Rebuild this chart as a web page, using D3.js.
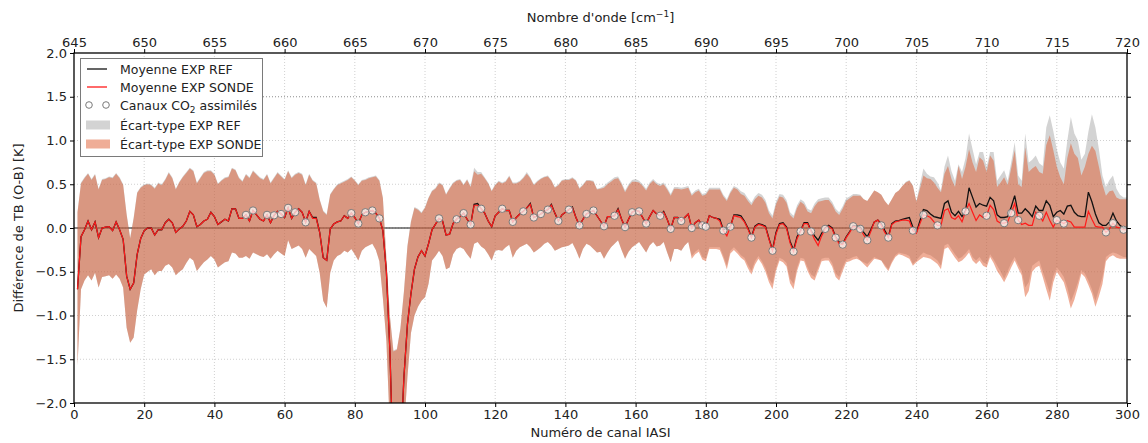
<!DOCTYPE html>
<html><head><meta charset="utf-8">
<script src="https://cdn.jsdelivr.net/npm/d3@7"></script>
<style>
body{margin:0;background:#fff}
text{font-family:"DejaVu Sans",sans-serif}
</style>
</head><body>
<svg id="c" width="1148" height="443"></svg>
<script>
// ---------------- DATA ----------------
const channels = d3.range(1, 301); // numéro de canal IASI
const meanRef = [
-0.70,-0.10,-0.02,0.08,-0.02,0.07,-0.11,0.00,0.01,0.015,
-0.03,0.07,-0.02,-0.13,-0.55,-0.70,-0.63,-0.30,-0.12,-0.03,
0.00,0.00,-0.08,-0.02,-0.02,0.06,0.10,0.06,-0.05,-0.01,
0.02,0.08,0.19,0.15,0.015,0.04,0.08,0.10,0.18,0.13,
0.04,0.07,0.10,0.08,0.22,0.22,0.11,0.11,0.15,0.08,
0.20,0.15,0.10,0.08,0.15,0.06,0.145,0.19,0.16,0.12,
0.23,0.11,0.18,0.22,0.18,0.065,0.19,0.12,0.12,-0.05,
-0.34,-0.37,-0.01,0.045,0.07,0.08,0.14,0.11,0.17,0.12,
0.05,0.15,0.18,0.19,0.20,0.17,0.11,-0.03,-0.50,-1.40,
-2.80,-3.20,-2.60,-1.70,-1.10,-0.75,-0.47,-0.33,-0.26,-0.32,
-0.18,-0.02,0.045,0.11,0.08,-0.08,-0.07,0.05,0.10,0.13,
0.17,0.10,0.04,0.27,0.28,0.22,0.17,0.08,0.015,0.14,
0.18,0.22,0.20,0.20,0.07,0.12,0.16,0.19,0.23,0.28,
0.12,0.14,0.16,0.19,0.21,0.27,0.17,0.08,0.15,0.18,
0.21,0.24,0.12,0.03,0.10,0.16,0.18,0.20,0.14,0.08,
0.02,0.13,0.13,0.14,0.22,0.10,0.01,0.10,0.18,0.20,
0.19,0.12,0.05,0.13,0.20,0.16,0.14,0.19,0.10,-0.01,
0.12,0.12,0.08,0.12,0.16,0.00,0.06,0.09,0.03,0.015,
0.14,0.12,0.11,0.10,-0.02,0.00,0.015,0.15,0.15,0.14,
0.08,0.00,-0.10,0.02,0.05,0.04,0.02,-0.12,-0.25,-0.05,
0.05,0.06,0.01,-0.15,-0.25,-0.10,-0.03,0.06,0.06,-0.03,
-0.09,-0.14,-0.06,0.00,0.03,0.00,-0.10,-0.16,-0.18,-0.10,
-0.04,0.03,0.02,0.01,-0.05,-0.10,-0.02,0.07,0.09,0.05,
-0.03,-0.10,0.05,0.08,0.085,0.10,0.11,0.12,0.01,-0.05,
0.08,0.21,0.20,0.16,0.13,0.12,0.11,0.28,0.31,0.18,
0.14,0.19,0.13,0.20,0.46,0.35,0.24,0.28,0.26,0.25,
0.35,0.31,0.15,0.12,0.12,0.13,0.24,0.37,0.17,0.17,
0.22,0.18,0.13,0.25,0.20,0.20,0.31,0.26,0.13,0.18,
0.20,0.16,0.25,0.26,0.18,0.14,0.13,0.13,0.41,0.30,
0.16,0.06,0.03,0.03,0.07,0.17,0.08,0.03,0.00,0.00];
const meanSonde = [
-0.70,-0.10,-0.02,0.08,-0.02,0.07,-0.11,0.00,0.01,0.015,
-0.03,0.07,-0.02,-0.13,-0.55,-0.70,-0.63,-0.30,-0.12,-0.03,
0.00,0.00,-0.08,-0.02,-0.02,0.06,0.10,0.06,-0.05,-0.01,
0.02,0.08,0.19,0.15,0.015,0.04,0.08,0.10,0.18,0.13,
0.04,0.07,0.10,0.08,0.22,0.22,0.11,0.11,0.15,0.08,
0.20,0.15,0.10,0.08,0.15,0.06,0.145,0.19,0.16,0.12,
0.23,0.11,0.18,0.22,0.18,0.065,0.19,0.11,0.11,-0.05,
-0.34,-0.37,-0.01,0.045,0.07,0.08,0.14,0.11,0.17,0.12,
0.05,0.15,0.18,0.19,0.20,0.17,0.11,-0.03,-0.50,-1.40,
-2.80,-3.20,-2.60,-1.70,-1.10,-0.75,-0.47,-0.33,-0.26,-0.32,
-0.18,-0.02,0.045,0.11,0.08,-0.08,-0.07,0.05,0.10,0.13,
0.17,0.10,0.04,0.26,0.26,0.22,0.17,0.08,0.015,0.14,
0.18,0.22,0.20,0.20,0.07,0.12,0.16,0.19,0.23,0.27,
0.12,0.14,0.16,0.19,0.21,0.26,0.17,0.08,0.15,0.18,
0.21,0.23,0.12,0.03,0.10,0.16,0.18,0.20,0.14,0.08,
0.02,0.13,0.13,0.14,0.21,0.10,0.01,0.10,0.18,0.20,
0.19,0.12,0.05,0.13,0.20,0.16,0.14,0.18,0.10,-0.01,
0.12,0.12,0.08,0.12,0.16,0.00,0.06,0.09,0.03,0.015,
0.14,0.12,0.11,0.08,-0.03,-0.09,0.015,0.14,0.13,0.12,
0.07,-0.01,-0.11,0.01,0.04,0.03,0.01,-0.13,-0.26,-0.07,
0.04,0.05,0.00,-0.17,-0.27,-0.12,-0.04,0.05,0.05,-0.04,
-0.13,-0.20,-0.09,-0.01,0.02,-0.01,-0.11,-0.18,-0.19,-0.11,
-0.05,0.02,0.01,-0.01,-0.08,-0.14,-0.04,0.07,0.09,0.03,
-0.05,-0.11,0.04,0.07,0.08,0.09,0.09,0.08,-0.03,-0.06,
0.05,0.15,0.14,0.12,0.07,0.03,0.03,0.20,0.22,0.12,
0.10,0.14,0.07,0.19,0.28,0.18,0.085,0.15,0.12,0.14,
0.26,0.21,0.08,0.055,0.055,0.07,0.17,0.28,0.09,0.04,
0.055,0.03,0.03,0.18,0.14,0.08,0.18,0.085,0.01,0.09,
0.07,0.05,0.085,0.07,0.01,0.01,0.01,0.01,0.19,0.10,
0.02,0.01,0.01,-0.05,-0.01,0.055,0.01,0.00,-0.02,-0.02];
const refHi = [
0.18,0.52,0.58,0.63,0.56,0.62,0.45,0.56,0.57,0.59,
0.58,0.63,0.58,0.50,0.16,-0.11,0.12,0.41,0.47,0.50,
0.51,0.50,0.46,0.52,0.50,0.56,0.64,0.58,0.45,0.53,
0.59,0.64,0.69,0.66,0.52,0.58,0.64,0.66,0.66,0.62,
0.51,0.55,0.58,0.59,0.69,0.67,0.58,0.54,0.62,0.58,
0.66,0.62,0.58,0.56,0.62,0.52,0.58,0.64,0.60,0.56,
0.66,0.58,0.62,0.64,0.62,0.50,0.62,0.55,0.52,0.33,
0.20,0.16,0.39,0.45,0.50,0.52,0.54,0.56,0.59,0.55,
0.50,0.55,0.56,0.58,0.59,0.60,0.55,0.35,-0.34,-1.00,
-1.40,-1.38,-1.14,-0.72,-0.20,0.08,0.24,0.22,0.18,0.24,
0.35,0.43,0.46,0.52,0.50,0.39,0.46,0.52,0.55,0.56,
0.50,0.56,0.48,0.69,0.64,0.64,0.58,0.52,0.43,0.50,
0.54,0.52,0.54,0.60,0.52,0.52,0.54,0.58,0.64,0.58,
0.50,0.54,0.57,0.59,0.60,0.55,0.47,0.50,0.55,0.56,
0.56,0.58,0.55,0.46,0.50,0.55,0.55,0.54,0.45,0.46,
0.48,0.52,0.55,0.58,0.59,0.52,0.43,0.50,0.55,0.56,
0.54,0.50,0.45,0.52,0.56,0.52,0.50,0.52,0.46,0.39,
0.47,0.47,0.46,0.47,0.48,0.39,0.43,0.45,0.39,0.40,
0.46,0.46,0.46,0.46,0.38,0.33,0.42,0.48,0.46,0.42,
0.40,0.34,0.29,0.36,0.40,0.38,0.32,0.20,0.14,0.30,
0.39,0.38,0.32,0.18,0.14,0.26,0.33,0.30,0.22,0.20,
0.28,0.33,0.34,0.35,0.35,0.30,0.22,0.18,0.25,0.34,
0.36,0.39,0.39,0.38,0.33,0.31,0.37,0.43,0.41,0.38,
0.31,0.26,0.33,0.40,0.43,0.48,0.53,0.55,0.49,0.31,
0.50,0.68,0.62,0.59,0.58,0.52,0.43,0.70,0.83,0.65,
0.54,0.73,0.64,0.80,1.08,0.90,0.73,0.87,0.87,0.70,
0.87,0.87,0.54,0.60,0.66,0.54,0.75,0.98,0.60,0.54,
1.08,0.75,0.78,0.83,0.74,0.71,1.15,1.29,1.11,0.90,
0.75,0.68,1.00,1.27,1.08,1.00,0.78,0.85,1.10,1.30,
1.15,0.90,0.60,0.47,0.55,0.60,0.45,0.38,0.35,0.35];
const refLo = [
-1.57,-0.70,-0.60,-0.54,-0.60,-0.51,-0.68,-0.56,-0.55,-0.54,
-0.58,-0.53,-0.58,-0.68,-1.14,-1.31,-1.25,-0.94,-0.70,-0.53,
-0.50,-0.47,-0.54,-0.49,-0.49,-0.43,-0.41,-0.45,-0.54,-0.50,
-0.47,-0.40,-0.34,-0.37,-0.49,-0.44,-0.39,-0.36,-0.32,-0.36,
-0.45,-0.42,-0.39,-0.38,-0.28,-0.29,-0.34,-0.34,-0.32,-0.35,
-0.28,-0.30,-0.32,-0.33,-0.30,-0.35,-0.30,-0.26,-0.29,-0.32,
-0.14,-0.24,-0.22,-0.20,-0.24,-0.34,-0.24,-0.28,-0.32,-0.51,
-0.83,-0.91,-0.51,-0.37,-0.32,-0.30,-0.26,-0.28,-0.24,-0.30,
-0.37,-0.26,-0.22,-0.20,-0.18,-0.25,-0.38,-0.80,-1.29,-2.30,
-2.80,-3.00,-2.80,-2.30,-1.70,-1.20,-1.00,-0.90,-0.83,-0.79,
-0.64,-0.37,-0.32,-0.26,-0.32,-0.47,-0.45,-0.30,-0.24,-0.22,
-0.24,-0.30,-0.35,-0.18,-0.16,-0.21,-0.24,-0.30,-0.37,-0.26,
-0.25,-0.26,-0.22,-0.19,-0.34,-0.26,-0.22,-0.20,-0.18,-0.22,
-0.28,-0.25,-0.22,-0.18,-0.16,-0.20,-0.26,-0.24,-0.22,-0.21,
-0.20,-0.17,-0.25,-0.35,-0.24,-0.18,-0.20,-0.24,-0.28,-0.27,
-0.35,-0.28,-0.22,-0.18,-0.14,-0.25,-0.35,-0.27,-0.22,-0.19,
-0.16,-0.22,-0.28,-0.20,-0.16,-0.21,-0.20,-0.16,-0.28,-0.39,
-0.24,-0.24,-0.26,-0.20,-0.16,-0.32,-0.27,-0.24,-0.33,-0.35,
-0.22,-0.22,-0.22,-0.22,-0.32,-0.43,-0.26,-0.22,-0.26,-0.31,
-0.34,-0.42,-0.49,-0.38,-0.32,-0.38,-0.46,-0.58,-0.64,-0.45,
-0.34,-0.36,-0.40,-0.58,-0.64,-0.45,-0.34,-0.35,-0.45,-0.53,
-0.56,-0.45,-0.35,-0.34,-0.34,-0.40,-0.52,-0.56,-0.45,-0.36,
-0.35,-0.33,-0.32,-0.37,-0.39,-0.41,-0.37,-0.33,-0.35,-0.37,
-0.42,-0.47,-0.38,-0.31,-0.28,-0.29,-0.30,-0.32,-0.41,-0.37,
-0.32,-0.28,-0.30,-0.31,-0.34,-0.37,-0.43,-0.20,-0.18,-0.24,
-0.30,-0.35,-0.33,-0.29,-0.24,-0.33,-0.37,-0.33,-0.39,-0.41,
-0.30,-0.36,-0.43,-0.50,-0.58,-0.49,-0.40,-0.33,-0.42,-0.49,
-0.68,-0.62,-0.43,-0.40,-0.37,-0.50,-0.62,-0.74,-0.55,-0.45,
-0.50,-0.56,-0.68,-0.84,-0.74,-0.62,-0.48,-0.52,-0.60,-0.70,
-0.83,-0.70,-0.56,-0.33,-0.30,-0.28,-0.29,-0.31,-0.33,-0.33];
const sondeHi = [
0.18,0.51,0.57,0.62,0.55,0.61,0.44,0.55,0.56,0.58,
0.57,0.62,0.57,0.49,0.15,-0.12,0.11,0.40,0.46,0.49,
0.50,0.49,0.45,0.51,0.49,0.55,0.63,0.57,0.44,0.52,
0.58,0.63,0.68,0.65,0.51,0.57,0.63,0.65,0.65,0.61,
0.50,0.54,0.57,0.58,0.68,0.66,0.57,0.53,0.61,0.57,
0.65,0.61,0.57,0.55,0.61,0.51,0.57,0.63,0.59,0.55,
0.65,0.57,0.61,0.63,0.61,0.49,0.61,0.54,0.51,0.32,
0.19,0.15,0.38,0.44,0.49,0.51,0.53,0.55,0.58,0.54,
0.49,0.54,0.55,0.57,0.58,0.59,0.54,0.34,-0.35,-1.01,
-1.41,-1.39,-1.15,-0.73,-0.21,0.07,0.23,0.21,0.17,0.23,
0.34,0.42,0.45,0.51,0.49,0.38,0.45,0.51,0.54,0.55,
0.49,0.55,0.47,0.65,0.61,0.62,0.57,0.51,0.42,0.49,
0.53,0.51,0.53,0.59,0.51,0.51,0.53,0.57,0.62,0.57,
0.49,0.53,0.56,0.58,0.59,0.54,0.46,0.49,0.54,0.55,
0.55,0.57,0.54,0.45,0.49,0.54,0.54,0.53,0.44,0.45,
0.46,0.50,0.53,0.56,0.57,0.50,0.41,0.48,0.53,0.53,
0.52,0.48,0.43,0.50,0.54,0.50,0.48,0.50,0.44,0.37,
0.45,0.45,0.44,0.45,0.46,0.37,0.41,0.43,0.37,0.38,
0.44,0.44,0.44,0.44,0.36,0.31,0.40,0.46,0.44,0.39,
0.37,0.31,0.26,0.33,0.37,0.35,0.29,0.17,0.11,0.27,
0.36,0.35,0.29,0.15,0.11,0.23,0.30,0.27,0.19,0.17,
0.25,0.30,0.31,0.32,0.32,0.27,0.19,0.15,0.22,0.31,
0.34,0.37,0.37,0.37,0.33,0.31,0.37,0.43,0.41,0.38,
0.31,0.26,0.33,0.40,0.43,0.48,0.52,0.54,0.48,0.30,
0.45,0.60,0.57,0.56,0.52,0.46,0.41,0.62,0.71,0.56,
0.47,0.71,0.56,0.70,0.90,0.75,0.64,0.81,0.77,0.64,
0.83,0.77,0.47,0.52,0.58,0.49,0.68,0.89,0.50,0.47,
0.92,0.64,0.68,0.71,0.64,0.62,0.95,1.06,0.89,0.70,
0.58,0.50,0.80,0.97,0.85,0.80,0.60,0.70,0.85,0.94,
0.88,0.70,0.50,0.37,0.42,0.43,0.35,0.33,0.33,0.33];
const sondeLo = [
-1.57,-0.70,-0.60,-0.54,-0.60,-0.51,-0.68,-0.56,-0.55,-0.54,
-0.58,-0.53,-0.58,-0.68,-1.14,-1.31,-1.25,-0.94,-0.70,-0.53,
-0.50,-0.47,-0.54,-0.49,-0.49,-0.43,-0.41,-0.45,-0.54,-0.50,
-0.47,-0.40,-0.34,-0.37,-0.49,-0.44,-0.39,-0.36,-0.32,-0.36,
-0.45,-0.42,-0.39,-0.38,-0.28,-0.29,-0.34,-0.34,-0.32,-0.35,
-0.28,-0.30,-0.32,-0.33,-0.30,-0.35,-0.30,-0.26,-0.29,-0.32,
-0.14,-0.24,-0.22,-0.20,-0.24,-0.34,-0.24,-0.28,-0.32,-0.51,
-0.83,-0.91,-0.51,-0.37,-0.32,-0.30,-0.26,-0.28,-0.24,-0.30,
-0.37,-0.26,-0.22,-0.20,-0.18,-0.25,-0.38,-0.80,-1.29,-2.30,
-2.80,-3.00,-2.80,-2.30,-1.70,-1.20,-1.00,-0.90,-0.83,-0.79,
-0.64,-0.37,-0.32,-0.26,-0.32,-0.47,-0.45,-0.30,-0.24,-0.22,
-0.24,-0.30,-0.35,-0.18,-0.16,-0.21,-0.24,-0.30,-0.37,-0.26,
-0.25,-0.26,-0.22,-0.19,-0.34,-0.26,-0.22,-0.20,-0.18,-0.22,
-0.28,-0.25,-0.22,-0.18,-0.16,-0.20,-0.26,-0.24,-0.22,-0.21,
-0.20,-0.17,-0.25,-0.35,-0.24,-0.18,-0.20,-0.24,-0.28,-0.27,
-0.35,-0.28,-0.22,-0.18,-0.14,-0.25,-0.35,-0.27,-0.22,-0.19,
-0.16,-0.22,-0.28,-0.20,-0.16,-0.21,-0.20,-0.16,-0.28,-0.39,
-0.24,-0.24,-0.26,-0.20,-0.16,-0.35,-0.30,-0.27,-0.36,-0.38,
-0.24,-0.24,-0.24,-0.25,-0.35,-0.47,-0.29,-0.25,-0.29,-0.34,
-0.37,-0.46,-0.53,-0.42,-0.35,-0.41,-0.50,-0.62,-0.70,-0.49,
-0.37,-0.39,-0.44,-0.63,-0.70,-0.49,-0.37,-0.38,-0.49,-0.57,
-0.60,-0.49,-0.38,-0.37,-0.37,-0.44,-0.56,-0.60,-0.49,-0.39,
-0.38,-0.36,-0.35,-0.37,-0.41,-0.45,-0.40,-0.35,-0.36,-0.37,
-0.44,-0.49,-0.40,-0.33,-0.30,-0.31,-0.33,-0.35,-0.43,-0.39,
-0.36,-0.33,-0.34,-0.35,-0.38,-0.41,-0.47,-0.24,-0.22,-0.28,
-0.34,-0.39,-0.37,-0.33,-0.28,-0.37,-0.41,-0.37,-0.43,-0.45,
-0.33,-0.40,-0.49,-0.55,-0.62,-0.54,-0.45,-0.37,-0.46,-0.54,
-0.79,-0.72,-0.50,-0.45,-0.43,-0.56,-0.70,-0.83,-0.62,-0.50,
-0.56,-0.62,-0.76,-0.92,-0.82,-0.68,-0.52,-0.56,-0.65,-0.75,
-0.90,-0.78,-0.64,-0.38,-0.33,-0.31,-0.34,-0.35,-0.35,-0.35];
const co2Channels = [49,51,55,57,59,61,63,66,79,81,83,85,87,104,109,111,113,116,
122,125,128,131,133,135,138,141,144,146,148,151,154,157,159,161,163,167,170,173,
176,179,180,185,187,193,199,205,207,210,214,217,219,222,224,226,230,232,239,242,
246,254,260,265,267,269,275,280,282,294,296,299];
const xTicks = d3.range(0, 301, 20);
const topTicks = d3.range(645, 721, 5);
const yTicks = [-2.0,-1.5,-1.0,-0.5,0.0,0.5,1.0,1.5,2.0];

// ---------------- LAYOUT ----------------
const W = 1148, H = 443, m = {l:74, r:21, t:53, b:40};
const svg = d3.select("#c");
const x = d3.scaleLinear().domain([0,300]).range([m.l, W-m.r]);
const xTop = d3.scaleLinear().domain([645,720]).range([m.l, W-m.r]);
const y = d3.scaleLinear().domain([-2,2]).range([H-m.b, m.t]);

svg.append("defs").append("clipPath").attr("id","clip")
  .append("rect").attr("x",m.l).attr("y",m.t).attr("width",W-m.l-m.r).attr("height",H-m.t-m.b);

// grid
const grid = svg.append("g");
grid.selectAll("line.v").data(xTicks.filter(d=>d>0&&d<300)).join("line")
  .attr("x1",d=>x(d)).attr("x2",d=>x(d)).attr("y1",m.t).attr("y2",H-m.b)
  .attr("stroke","#c4c4c4").attr("stroke-width",0.8).attr("stroke-dasharray","1,2");
grid.selectAll("line.h").data(yTicks.filter(d=>d>-2&&d<2)).join("line")
  .attr("x1",m.l).attr("x2",W-m.r).attr("y1",d=>y(d)).attr("y2",d=>y(d))
  .attr("stroke",d=>d===1.5?"#8c8c8c":"#c4c4c4").attr("stroke-width",d=>d===1.5?1:0.8)
  .attr("stroke-dasharray","1,2");

const plot = svg.append("g").attr("clip-path","url(#clip)");

// zero line
plot.append("line").attr("x1",x(0)).attr("x2",x(300)).attr("y1",y(0)).attr("y2",y(0))
  .attr("stroke","#111").attr("stroke-width",1);

const idx = channels.map((c,i)=>i);
const area = (lo,hi) => d3.area().x(i=>x(channels[i])).y0(i=>y(lo[i])).y1(i=>y(hi[i]));
plot.append("path").attr("d",area(refLo,refHi)(idx)).attr("fill","#808080").attr("fill-opacity",0.35);
plot.append("path").attr("d",area(sondeLo,sondeHi)(idx)).attr("fill","#df5b30").attr("fill-opacity",0.5);

const line = vals => d3.line().x(i=>x(channels[i])).y(i=>y(vals[i]));
plot.append("path").attr("d",line(meanRef)(idx)).attr("fill","none").attr("stroke","#111").attr("stroke-width",1.3);
plot.append("path").attr("d",line(meanSonde)(idx)).attr("fill","none").attr("stroke","#ff1a1a").attr("stroke-width",1.2);

plot.selectAll("circle.co2").data(co2Channels).join("circle")
  .attr("cx",c=>x(c)).attr("cy",c=>y(meanSonde[channels.indexOf(c)])).attr("r",3.7)
  .attr("fill","#fff").attr("fill-opacity",0.7).attr("stroke","#7a7a7a").attr("stroke-width",1);

// axes
const fmtY = d3.format(".1f");
const styleAxis = g => {
  g.select(".domain").remove();
  g.selectAll(".tick line").attr("stroke","#000").attr("stroke-width",1);
  g.selectAll(".tick text").attr("fill","#222").style("font-size","13px").style("font-family","DejaVu Sans");
};
svg.append("g").attr("transform",`translate(0,${H-m.b})`)
  .call(d3.axisBottom(x).tickValues(xTicks).tickSize(4).tickPadding(3)).call(styleAxis);
svg.append("g").attr("transform",`translate(0,${m.t})`)
  .call(d3.axisTop(xTop).tickValues(topTicks).tickSize(4).tickPadding(2)).call(styleAxis);
svg.append("g").attr("transform",`translate(${m.l},0)`)
  .call(d3.axisLeft(y).tickValues(yTicks).tickFormat(fmtY).tickSize(4).tickPadding(3)).call(styleAxis);
svg.append("g").attr("transform",`translate(${W-m.r},0)`)
  .call(d3.axisRight(y).tickValues(yTicks).tickFormat("").tickSize(4)).call(styleAxis);

svg.append("rect").attr("x",m.l).attr("y",m.t).attr("width",W-m.l-m.r).attr("height",H-m.t-m.b)
  .attr("fill","none").attr("stroke","#000").attr("stroke-width",1.3);

// axis labels
svg.append("text").attr("x",(m.l+W-m.r)/2).attr("y",437).attr("text-anchor","middle")
  .style("font-size","13px").attr("fill","#222").text("Numéro de canal IASI");
const tl = svg.append("text").attr("x",(m.l+W-m.r)/2).attr("y",22).attr("text-anchor","middle")
  .style("font-size","13px").attr("fill","#222");
tl.append("tspan").text("Nombre d'onde [cm");
tl.append("tspan").attr("dy",-5).style("font-size","9px").text("−1");
tl.append("tspan").attr("dy",5).text("]");
svg.append("text").attr("transform",`translate(23,${(m.t+H-m.b)/2}) rotate(-90)`)
  .attr("text-anchor","middle").style("font-size","13px").attr("fill","#222")
  .text("Différence de TB (O-B) [K]");

// legend
const lg = svg.append("g");
lg.append("rect").attr("x",80.5).attr("y",58.5).attr("width",182).attr("height",98)
  .attr("fill","#fff").attr("stroke","#7a7a7a").attr("stroke-width",1);
const rows = [69, 87, 105, 125, 144];
const lx = 120;
lg.append("line").attr("x1",87).attr("x2",107).attr("y1",rows[0]).attr("y2",rows[0]).attr("stroke","#111").attr("stroke-width",1.3);
lg.append("line").attr("x1",87).attr("x2",107).attr("y1",rows[1]).attr("y2",rows[1]).attr("stroke","#ff1a1a").attr("stroke-width",1.3);
[89,106].forEach(cx=>lg.append("circle").attr("cx",cx).attr("cy",rows[2]).attr("r",3.3)
  .attr("fill","#fff").attr("stroke","#7a7a7a").attr("stroke-width",1));
lg.append("rect").attr("x",86).attr("y",rows[3]-4.5).attr("width",24).attr("height",9)
  .attr("fill","#808080").attr("fill-opacity",0.35);
lg.append("rect").attr("x",86).attr("y",rows[4]-4.5).attr("width",24).attr("height",9)
  .attr("fill","#df5b30").attr("fill-opacity",0.5);
const lt = (i,t)=>lg.append("text").attr("x",lx).attr("y",rows[i]+4.5).style("font-size","12.5px").attr("fill","#222").text(t);
lt(0,"Moyenne EXP REF");
lt(1,"Moyenne EXP SONDE");
const co = lg.append("text").attr("x",lx).attr("y",rows[2]+4.5).style("font-size","12.5px").attr("fill","#222");
co.append("tspan").text("Canaux CO");
co.append("tspan").attr("dy",3).style("font-size","9px").text("2");
co.append("tspan").attr("dy",-3).text(" assimilés");
lt(3,"Écart-type EXP REF");
lt(4,"Écart-type EXP SONDE");
</script>
</body></html>
